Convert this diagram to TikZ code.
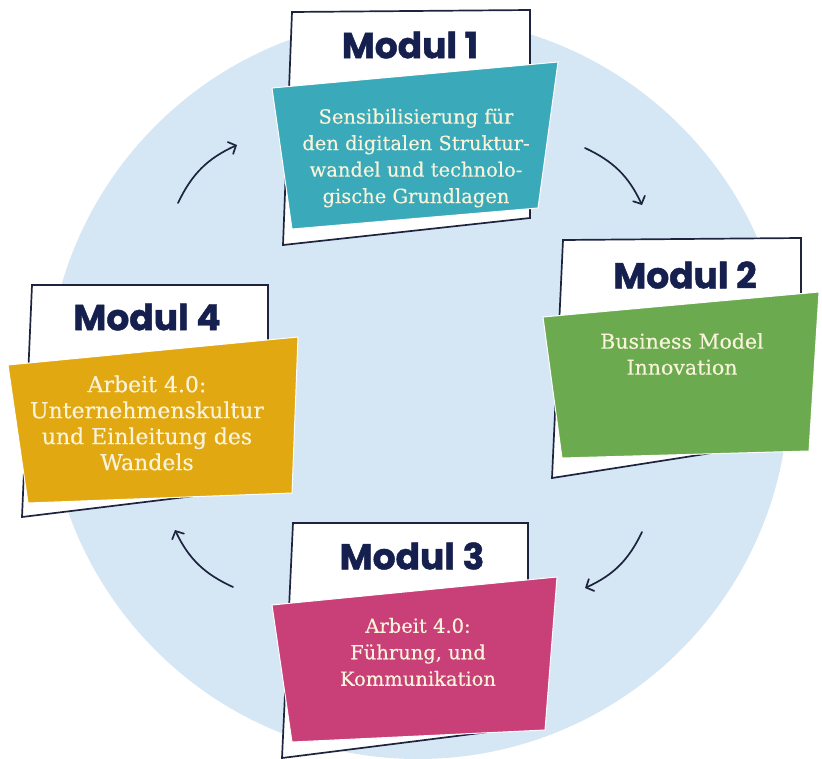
\documentclass[tikz,border=0pt]{standalone}
\usepackage{fontspec}
\setmainfont{DejaVu Serif}[FakeBold=0.35]
\newfontfamily\titlefont{Poppins}[BoldFeatures={FakeBold=1.3}]
\usetikzlibrary{arrows.meta}

\definecolor{disc}{HTML}{D5E6F4}
\definecolor{navy}{HTML}{16204E}
\definecolor{frameline}{HTML}{1E2440}
\definecolor{mteal}{HTML}{3AA9B9}
\definecolor{mgreen}{HTML}{6BAA4F}
\definecolor{mgold}{HTML}{E1A811}
\definecolor{mpink}{HTML}{C93F78}
\definecolor{cream}{HTML}{F8F3DA}

\tikzset{
  frame/.style={fill=white, draw=frameline, line width=1.7pt, line join=miter},
  panel/.style={draw=white, line width=1pt},
  title/.style={font=\titlefont\bfseries\fontsize{36}{36}\selectfont, text=navy, inner sep=0pt},
  body/.style={font=\fontsize{19.5}{26.5}\selectfont, text=cream, align=center, inner sep=0pt},
  cyc/.style={draw=frameline, line width=1.7pt, line cap=round,
              -{Straight Barb[length=6pt,width=13pt,line cap=round]}}
}

\begin{document}
\begin{tikzpicture}[x=1pt,y=-1pt]
  \path[use as bounding box] (0,0) rectangle (822,758);
  \clip (0,0) rectangle (822,758);
  \fill[white] (0,0) rectangle (822,758);

  % background disc
  \fill[disc] (418,388) circle[radius=371pt];

  % Modul 1
  \path[frame] (292,12) -- (530,10) -- (530,218) -- (283,245) -- cycle;
  \path[panel, fill=mteal] (272,88) -- (558,62) -- (538,208) -- (292,229) -- cycle;
  \node[title] (t1) at (410,45) {Modul 1};
  \node[body] (b1) at (416,158) {Sensibilisierung für\\den digitalen Struktur-\\wandel und technolo-\\gische Grundlagen};

  % Modul 2
  \path[frame] (563,240) -- (801,238) -- (801,439) -- (552,478) -- cycle;
  \path[panel, fill=mgreen] (543,317) -- (819,292) -- (809,451) -- (562,458) -- cycle;
  \node[title] (t2) at (685,275) {Modul 2};
  \node[body, font=\fontsize{20.5}{26}\selectfont] (b2) at (682,354) {Business Model\\Innovation};

  % Modul 3
  \path[frame] (293,523) -- (528,523) -- (528,727) -- (282,758) -- cycle;
  \path[panel, fill=mpink] (272,605) -- (557,577) -- (545,730) -- (292,742) -- cycle;
  \node[title] (t3) at (412,556) {Modul 3};
  \node[body] (b3) at (418,652) {Arbeit 4.0:\\Führung, und\\Kommunikation};

  % Modul 4
  \path[frame] (32,285) -- (268,285) -- (268,487) -- (22,517) -- cycle;
  \path[panel, fill=mgold] (8,365) -- (298,337) -- (292,493) -- (28,503) -- cycle;
  \node[title] (t4) at (147,317) {Modul 4};
  \node[body, font=\fontsize{22}{26}\selectfont] (b4) at (147,423) {Arbeit 4.0:\\Unternehmenskultur\\und Einleitung des\\Wandels};

  % cycle arrows
  \coordinate (a1s) at (178,203); \coordinate (a1e) at (237,145);
  \coordinate (a2s) at (585,148); \coordinate (a2e) at (642,205);
  \coordinate (a3s) at (642,532); \coordinate (a3e) at (585,588);
  \coordinate (a4s) at (233,587); \coordinate (a4e) at (175,530);
  \draw[cyc] (a1s) to[bend left=20] (a1e);
  \draw[cyc] (a2s) to[bend left=20] (a2e);
  \draw[cyc] (a3s) to[bend left=20] (a3e);
  \draw[cyc] (a4s) to[bend left=20] (a4e);
\end{tikzpicture}
\end{document}
